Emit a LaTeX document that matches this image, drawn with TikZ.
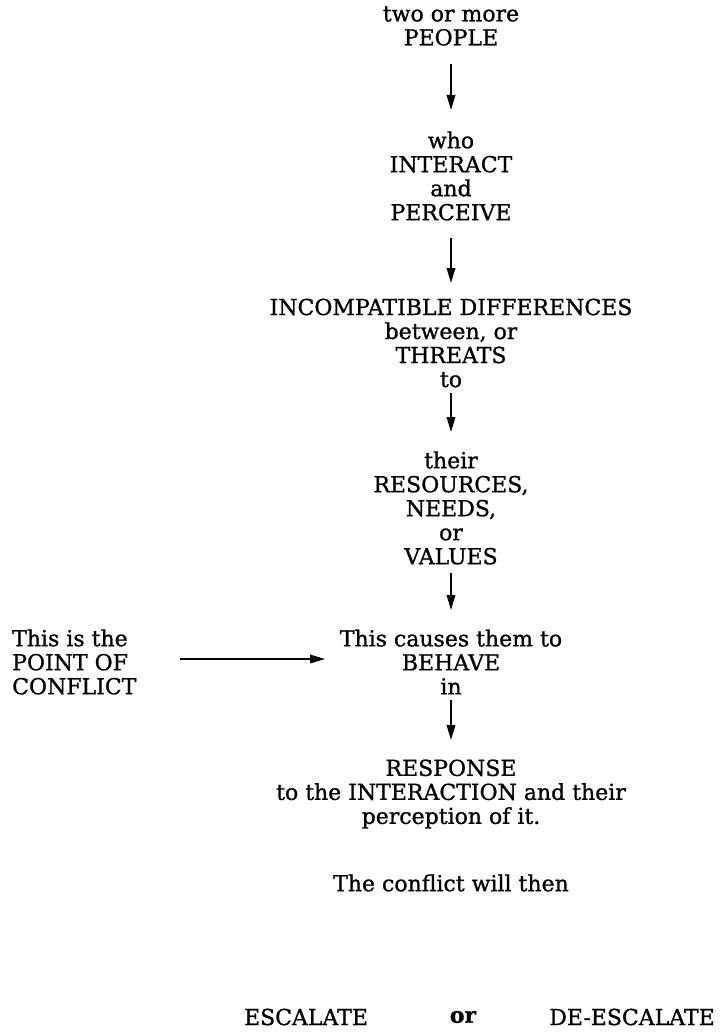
\documentclass[tikz,border=0pt]{standalone}
\usepackage{fontspec}
\setmainfont{DejaVu Serif}[RawFeature={embolden=1.0}]
\usetikzlibrary{arrows.meta}
\begin{document}
\begin{tikzpicture}[x=1pt,y=-1pt,
  txt/.style={align=center,inner sep=0pt,font=\fontsize{22}{24}\selectfont},
  ltxt/.style={align=left,inner sep=0pt,font=\fontsize{22}{24}\selectfont},
  flow/.style={line width=1.8pt,-{Triangle[length=15pt,width=8.5pt]}}]
\useasboundingbox (0,0) rectangle (727,1035);
\node[txt] (b1) at (451,26) {two or more\\PEOPLE};
\node[txt] (b2) at (451,176) {who\\INTERACT\\and\\PERCEIVE};
\node[txt] (b3) at (451,343) {INCOMPATIBLE DIFFERENCES\\between, or\\THREATS\\to};
\node[txt] (b4) at (451,508) {their\\RESOURCES,\\NEEDS,\\or\\VALUES};
\node[txt] (b5) at (451,662) {This causes them to\\BEHAVE\\in};
\node[ltxt,anchor=west] (lf) at (12,662) {This is the\\POINT OF\\CONFLICT};
\node[txt] (b6) at (451,794) {RESPONSE\\to the INTERACTION and their\\perception of it.};
\node[txt] (b7) at (451,883) {The conflict will then};
\node[txt] (esc) at (306,1017) {ESCALATE};
\node[txt,font=\fontsize{22}{24}\selectfont\bfseries] (or) at (463,1017) {or};
\node[txt] (desc) at (632,1017) {DE-ESCALATE};
\coordinate (t1) at (0,64);  \coordinate (h1) at (0,110);
\coordinate (t2) at (0,238); \coordinate (h2) at (0,283);
\coordinate (t3) at (0,393); \coordinate (h3) at (0,432);
\coordinate (t4) at (0,573); \coordinate (h4) at (0,610);
\coordinate (t5) at (0,700); \coordinate (h5) at (0,740);
\coordinate (hs) at (180,659); \coordinate (he) at (325,659);
\draw[flow] (b1.south |- t1) -- (b2.north |- h1);
\draw[flow] (b2.south |- t2) -- (b3.north |- h2);
\draw[flow] (b3.south |- t3) -- (b4.north |- h3);
\draw[flow] (b4.south |- t4) -- (b5.north |- h4);
\draw[flow] (b5.south |- t5) -- (b6.north |- h5);
\draw[flow] (hs) -- (he);
\end{tikzpicture}
\end{document}
